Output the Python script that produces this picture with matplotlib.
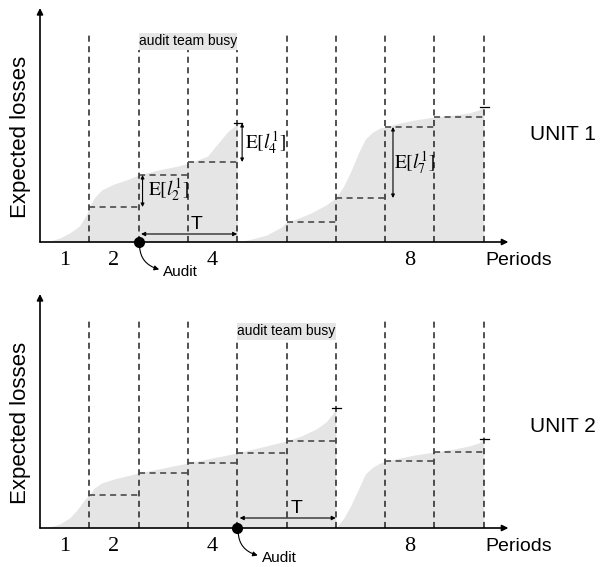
import numpy as np
import matplotlib.pyplot as plt
from matplotlib.patches import Rectangle

plt.rcParams['font.family'] = 'Liberation Sans'
plt.rcParams['mathtext.fontset'] = 'stix'

# period boundaries and labelled periods
bounds = [1, 2, 3, 4, 5, 6, 7, 8, 9]
label_periods = [1, 2, 4, 8]

# ---- UNIT 1 ----
u1_ax_x = [0, 0.2, 0.4, 0.6, 0.8, 0.95, 1.0, 1.1, 1.25, 1.5, 1.75, 2.0, 2.4, 2.8, 3.1, 3.4, 3.6, 3.8, 3.95, 4.0]
u1_ax_y = [0, 0.1, 0.4, 0.9, 1.6, 2.8, 3.5, 4.4, 5.2, 5.8, 6.2, 6.7, 7.2, 7.6, 8.0, 8.6, 9.8, 11.0, 11.6, 11.9]
u1_bx_x = [4.0, 4.3, 4.6, 4.9, 5.0, 5.2, 5.5, 5.8, 6.0, 6.15, 6.3, 6.45, 6.6, 6.75, 6.9, 7.0, 7.3, 7.6, 8.0, 8.4, 8.7, 8.9, 9.0]
u1_bx_y = [0, 0.3, 0.7, 1.5, 2.0, 2.3, 2.9, 3.7, 4.4, 5.5, 7.0, 8.8, 10.3, 11.0, 11.4, 11.5, 11.9, 12.2, 12.5, 12.7, 12.9, 13.2, 13.5]
u1_step_start = [1, 2, 3, 5, 6, 7, 8]
u1_step_level = [3.5, 6.7, 8.0, 2.0, 4.4, 11.5, 12.5]
u1_ticks_x = [4, 9]
u1_ticks_y = [11.9, 13.5]
u1_audit = 2
u1_busy = (2, 4)
u1_E = [(2.08, 3.5, 6.7, r'$\mathrm{E}[l_{2}^{1}]$', 2.6, 5.2),
        (4.1, 8.0, 11.9, r'$\mathrm{E}[l_{4}^{1}]$', 4.58, 9.9),
        (7.16, 4.4, 11.5, r'$\mathrm{E}[l_{7}^{1}]$', 7.6, 7.9)]

# ---- UNIT 2 ----
u2_ax_x = [0, 0.2, 0.4, 0.6, 0.75, 0.9, 1.0, 1.1, 1.25, 1.5, 1.75, 2.0, 2.5, 3.0, 3.5, 4.0, 4.5, 5.0, 5.3, 5.6, 5.8, 5.95, 6.0]
u2_ax_y = [0, 0.1, 0.4, 1.0, 1.8, 2.8, 3.3, 4.0, 4.5, 4.9, 5.2, 5.5, 6.0, 6.5, 7.0, 7.5, 8.1, 8.7, 9.2, 9.9, 10.6, 11.5, 12.0]
u2_bx_x = [6.0, 6.15, 6.3, 6.45, 6.6, 6.75, 6.9, 7.0, 7.3, 7.6, 8.0, 8.4, 8.7, 8.9, 9.0]
u2_bx_y = [0, 0.9, 2.2, 3.8, 5.4, 6.1, 6.5, 6.7, 7.0, 7.3, 7.6, 7.9, 8.2, 8.5, 8.9]
u2_step_start = [1, 2, 3, 4, 5, 7, 8]
u2_step_level = [3.3, 5.5, 6.5, 7.5, 8.7, 6.7, 7.6]
u2_ticks_x = [6, 9]
u2_ticks_y = [12.0, 8.9]
u2_audit = 4
u2_busy = (4, 6)

fill_c = '#e5e5e5'
dash_c = '#2a2a2a'
dash = (0, (3.8, 2.8))


def panel(ax, ylim, cax, cay, cbx, cby, st, lv, tx, ty, audit, busy, t_label, t_y, unit, unit_y, box_y, audit_txt, elabels):
    ax.set_xlim(-40 / 49.3, 563 / 49.3)
    ax.set_ylim(*ylim)
    ax.axis('off')

    ax.fill_between(cax, 0, cay, color=fill_c, lw=0, zorder=1)
    ax.fill_between(cbx, 0, cby, color=fill_c, lw=0, zorder=1)

    for b in bounds:
        top = box_y if busy[0] <= b <= busy[1] else 20.8
        ax.plot([b, b], [0, top], color=dash_c, lw=1.15, ls=dash, zorder=2)
    for s, l in zip(st, lv):
        ax.plot([s, s + 1], [l, l], color='#444444', lw=1.15, ls=dash, zorder=2)
    for x, y in zip(tx, ty):
        ax.plot([x - 0.07, x + 0.1], [y, y], color='k', lw=0.9, zorder=3)

    # busy box
    ax.add_patch(Rectangle((busy[0], box_y), busy[1] - busy[0], 1.75, color=fill_c, lw=0, zorder=4))
    ax.text((busy[0] + busy[1]) / 2, box_y + 0.85, 'audit team busy', ha='center', va='center',
            fontsize=10, zorder=5)

    # axes
    ax.annotate('', xy=(9.5, 0), xytext=(0, 0),
                arrowprops=dict(arrowstyle='-|>', lw=1.2, color='k', mutation_scale=9, shrinkA=0, shrinkB=0))
    ax.annotate('', xy=(0, 23.4), xytext=(0, 0),
                arrowprops=dict(arrowstyle='-|>', lw=1.2, color='k', mutation_scale=9, shrinkA=0, shrinkB=0))

    # period labels
    for p in label_periods:
        ax.text(p - 0.5, -1.85, str(p), ha='center', va='center', fontsize=16, family='Liberation Serif')
    ax.text(9.03, -1.85, 'Periods', ha='left', va='center', fontsize=14)
    ax.text(-0.4, 10.5, 'Expected losses', rotation=90, ha='center', va='center', fontsize=16)
    ax.text(10.6, unit_y, unit, ha='center', va='center', fontsize=15)

    # T arrow
    ax.annotate('', xy=(audit + 2, t_y), xytext=(audit + 0.05, t_y),
                arrowprops=dict(arrowstyle='<|-|>', lw=0.8, color='k', mutation_scale=6, shrinkA=0, shrinkB=0))
    ax.text(t_label, t_y + 0.95, 'T', ha='center', va='center', fontsize=14)

    # audit point
    ax.plot([audit], [0], 'o', color='k', ms=7, zorder=6)
    ax.annotate('Audit', xy=(audit + 0.02, -0.3), xytext=(audit_txt, -3.0), ha='left', va='center',
                fontsize=11,
                arrowprops=dict(arrowstyle='<|-', lw=0.8, color='k', mutation_scale=7,
                                connectionstyle='angle3,angleA=0,angleB=90', shrinkA=1, shrinkB=1))

    for x, y0, y1, lab, lx, ly in elabels:
        ax.annotate('', xy=(x, y1), xytext=(x, y0),
                    arrowprops=dict(arrowstyle='<|-|>', lw=0.8, color='k', mutation_scale=5, shrinkA=0, shrinkB=0))
        ax.text(lx, ly, lab, ha='center', va='center', fontsize=14)


fig = plt.figure(figsize=(6.03, 5.67), dpi=100)
ax1 = fig.add_axes([0, 284 / 567, 1, 283 / 567])
ax2 = fig.add_axes([0, 0, 1, 284 / 567])

panel(ax1, (-4.1, 24.2), u1_ax_x, u1_ax_y, u1_bx_x, u1_bx_y, u1_step_start, u1_step_level,
      u1_ticks_x, u1_ticks_y, u1_audit, u1_busy, 3.18, 0.8, 'UNIT 1', 10.8, 19.2, 2.5, u1_E)
panel(ax2, (-3.9, 24.5), u2_ax_x, u2_ax_y, u2_bx_x, u2_bx_y, u2_step_start, u2_step_level,
      u2_ticks_x, u2_ticks_y, u2_audit, u2_busy, 5.21, 1.0, 'UNIT 2', 10.1, 18.8, 4.5, [])

fig.savefig('out.png', dpi=100)
